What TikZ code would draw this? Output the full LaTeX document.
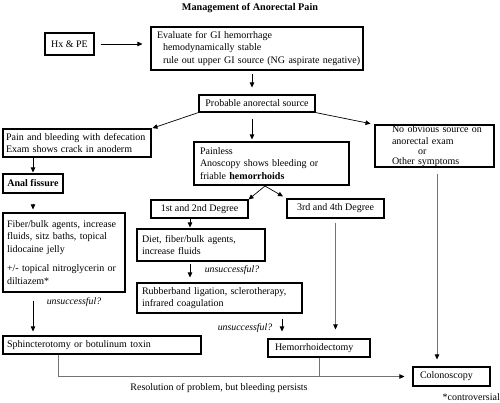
\documentclass[tikz,border=0pt]{standalone}
\usepackage{fontspec}
\setmainfont{Liberation Serif}
\usetikzlibrary{arrows.meta}
\begin{document}
\begin{tikzpicture}[x=1pt,y=-1pt,
  font=\fontsize{10}{12.5}\selectfont,
  bx/.style={draw,line width=1.1pt,inner xsep=4pt,inner ysep=0pt,align=left,anchor=center},
  cbx/.style={draw,line width=1.1pt,inner xsep=0pt,inner ysep=0pt,align=center,anchor=center},
  arr/.style={-{Triangle[length=5pt,width=4.5pt]},line width=0.7pt},
  ln/.style={-{Triangle[length=5pt,width=4.5pt,color=black]},line width=0.6pt,draw=black!55},
  lbl/.style={font=\fontsize{9.8}{12}\selectfont\itshape,inner sep=0pt}]
\useasboundingbox (0,0) rectangle (500,403);

\node[font=\fontsize{10.2}{12.5}\selectfont\bfseries] (title) at (250,8) {Management of Anorectal Pain};

\node[cbx,minimum width=49pt,minimum height=22pt] (hx) at (69.5,44) {Hx \& PE};
\node[bx,text width=204pt,minimum height=43pt] (eval) at (257,48.5)
  {\mbox{\hspace*{2pt}Evaluate for GI hemorrhage}\\\mbox{\hspace*{8pt}hemodynamically stable}\\\mbox{\hspace*{8pt}rule out upper GI source (NG aspirate negative)}};
\node[cbx,minimum width=116pt,minimum height=17pt] (prob) at (257,103.5) {Probable anorectal source};

\node[bx,inner xsep=3pt,text width=142pt,minimum height=28pt] (pain) at (77,143)
  {\mbox{Pain and bleeding with defecation}\\\mbox{Exam shows crack in anoderm}};
\node[cbx,minimum width=60pt,minimum height=19pt,font=\fontsize{10}{12.5}\selectfont\bfseries] (anal) at (33,183.5) {Anal fissure};
\node[bx,text width=114pt,minimum height=79pt] (fiber) at (64,252.5)
  {\mbox{Fiber/bulk agents, increase}\\\mbox{fluids, sitz baths, topical}\\\mbox{lidocaine jelly}\\[7pt]\mbox{+/- topical nitroglycerin or}\\\mbox{diltiazem*}};
\node[bx,text width=190pt,minimum height=18pt] (sph) at (102,345) {\mbox{Sphincterotomy or botulinum toxin}};

\node[bx,inner xsep=6pt,text width=143pt,minimum height=43pt] (painless) at (271.5,163.5)
  {\mbox{Painless}\\\mbox{Anoscopy shows bleeding or}\\\mbox{friable \textbf{hemorrhoids}}};
\node[cbx,minimum width=97pt,minimum height=18pt] (first) at (199.5,209) {1st and 2nd Degree};
\node[cbx,minimum width=97pt,minimum height=19pt] (third) at (335.5,208.5) {3rd and 4th Degree};
\node[bx,inner xsep=5pt,text width=118pt,minimum height=32pt] (diet) at (201,245)
  {\mbox{Diet, fiber/bulk agents,}\\\mbox{increase fluids}};
\node[bx,inner xsep=5pt,text width=155pt,minimum height=30pt] (rub) at (219.5,298)
  {\mbox{Rubberband ligation, sclerotherapy,}\\\mbox{infrared coagulation}};
\node[bx,inner xsep=7pt,text width=88pt,minimum height=18pt] (hem) at (319,348) {\mbox{Hemorrhoidectomy}};

\node[bx,text width=111pt,minimum height=42pt] (noobv) at (434.5,146)
  {\mbox{\hspace*{13pt}No obvious source on}\\\mbox{\hspace*{13pt}anorectal exam}\\[-2.5pt]\mbox{\hspace*{39pt}or}\\[-2.5pt]\mbox{\hspace*{13pt}Other symptoms}};
\node[bx,inner xsep=7pt,text width=63pt,minimum height=19pt] (colo) at (451.5,376.5) {\mbox{Colonoscopy}};

\node[inner sep=0pt] (res) at (219,388) {Resolution of problem, but bleeding persists};
\node[inner sep=0pt,anchor=east] (contro) at (500,397) {*controversial};

\node[lbl] (u1) at (74,302) {unsuccessful?};
\node[lbl] (u2) at (232,270) {unsuccessful?};
\node[lbl] (u3) at (245,328) {unsuccessful?};

\coordinate (xa) at (252,0);
\coordinate (xb) at (190,0);
\coordinate (xc) at (282,0);
\coordinate (xd) at (437,0);
\coordinate (xe) at (58,0);
\coordinate (ph) at (265,186);

\draw[arr,shorten <=6pt,shorten >=8pt] (hx.east) -- (eval.west |- hx.east);
\draw[arr,shorten <=3pt,shorten >=7pt] (eval.south -| xa) -- (prob.north -| xa);
\draw[arr,shorten >=1pt] (prob.south west) -- (pain.north east);
\draw[arr,shorten >=4pt] (prob.south east) -- (noobv.north west);
\draw[arr,shorten <=6pt,shorten >=2pt] (prob.south -| xa) -- (painless.north -| xa);

\draw[arr,shorten >=1pt] (anal.north |- pain.south) -- (anal.north);
\draw[arr,shorten <=10pt,shorten >=3pt] (anal.south) -- (fiber.north -| anal.south);
\draw[arr,shorten <=8pt,shorten >=4pt] (fiber.south -| anal.south) -- (sph.north -| anal.south);

\draw[arr] (ph) -- (first.north east);
\draw[arr,shorten >=4pt] (ph) -- (third.north west);
\draw[arr,shorten >=1pt] (first.south -| xb) -- (diet.north -| xb);
\draw[arr,shorten <=2pt,shorten >=5pt] (diet.south -| xb) -- (rub.north -| xb);
\draw[arr,shorten <=5pt,shorten >=7pt] (rub.south -| xc) -- (hem.north -| xc);

\draw[ln,shorten <=4pt,shorten >=9pt] (third.south) -- (hem.north -| third.south);
\draw[ln,shorten <=6pt,shorten >=7pt] (noobv.south -| xd) -- (colo.north -| xd);
\draw[ln,shorten >=8pt] (sph.south -| xe) |- (colo.west);
\draw[line width=0.6pt,draw=black!55] (hem.south) -- (hem.south |- colo.west);
\end{tikzpicture}
\end{document}
